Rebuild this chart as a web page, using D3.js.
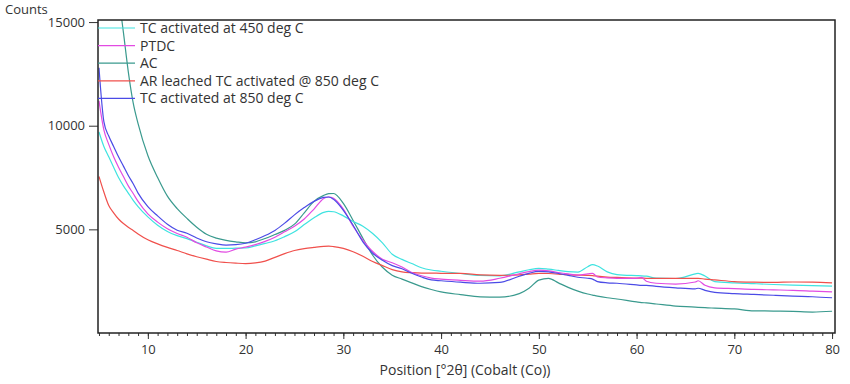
<!DOCTYPE html>
<html>
<head>
<meta charset="utf-8">
<script src="https://cdn.jsdelivr.net/npm/d3@7"></script>
<style>
  body { margin: 0; background: #fff; }
  svg { display: block; }
</style>
</head>
<body>
<svg id="svg"></svg>
<script>
// 2theta positions (deg), Cobalt radiation
const positions = [5, 5.5, 6, 6.5, 7, 7.5, 8, 8.5, 9, 10, 11, 12, 13, 14, 15, 16, 17, 18, 19, 20,
  21, 22, 23, 24, 25, 26, 27, 28, 28.5, 29, 30, 31, 32, 33, 34, 35, 36, 37, 38, 39, 40,
  42, 44, 46, 48, 49, 50, 51, 52, 53, 54, 55, 55.5, 56, 57, 58, 60, 60.5, 61, 62, 64,
  66, 66.3, 67, 68, 70, 72, 74, 76, 78, 80];

const tc450 = [9700, 9000, 8500, 8000, 7500, 7100, 6750, 6400, 6100, 5600, 5200, 4900, 4700, 4550, 4380, 4200, 4080, 4080, 4090, 4100,
  4200, 4320, 4450, 4650, 4880, 5230, 5560, 5820, 5870, 5850, 5650, 5380, 5150, 4800, 4350, 3800, 3550, 3350, 3150, 3040, 2980,
  2870, 2780, 2760, 2950, 3050, 3120, 3080, 3020, 2960, 2940, 3200, 3300, 3230, 2950, 2820, 2770, 2760, 2740, 2650, 2630,
  2850, 2880, 2750, 2480, 2420, 2380, 2340, 2310, 2290, 2260];

const ptdc = [11200, 9800, 9100, 8500, 8000, 7550, 7100, 6730, 6350, 5750, 5350, 5030, 4800, 4620, 4350, 4150, 3960, 3900, 4050, 4140,
  4260, 4420, 4620, 4880, 5150, 5500, 5980, 6490, 6560, 6500, 5980, 5150, 4480, 3930, 3560, 3390, 3180, 2920, 2760, 2650, 2600,
  2540, 2500, 2640, 2860, 2960, 3030, 3000, 2920, 2850, 2790, 2850, 2880, 2700, 2660, 2640, 2640, 2680, 2500, 2400, 2360,
  2460, 2520, 2300, 2180, 2140, 2100, 2080, 2060, 2020, 1980];

const ac = [24000, 21500, 19500, 17800, 16300, 14500, 12600, 11100, 10100, 8560, 7500, 6600, 6000, 5530, 5100, 4760, 4580, 4470, 4400, 4350,
  4400, 4560, 4750, 4950, 5250, 5800, 6350, 6640, 6720, 6730, 6250, 5430, 4570, 3750, 3170, 2790, 2600, 2420, 2240, 2100, 1980,
  1850, 1740, 1730, 1900, 2160, 2550, 2640, 2420, 2200, 2020, 1880, 1830, 1780, 1700, 1640, 1500, 1470, 1450, 1400, 1300,
  1250, 1240, 1220, 1200, 1160, 1070, 1060, 1040, 1010, 1050];

const arLeached = [7550, 6800, 6150, 5800, 5500, 5280, 5100, 4950, 4780, 4500, 4300, 4130, 3980, 3820, 3680, 3560, 3450, 3400, 3370, 3350,
  3380, 3470, 3650, 3830, 3980, 4070, 4130, 4180, 4190, 4170, 4080, 3920, 3700, 3450, 3250, 3060, 2950, 2910, 2890, 2890, 2880,
  2880, 2800, 2780, 2800, 2840, 2880, 2870, 2840, 2800, 2790, 2780, 2770, 2740, 2700, 2680, 2650, 2650, 2640, 2640, 2640,
  2640, 2640, 2600, 2560, 2480, 2450, 2440, 2460, 2450, 2420];

const tc850 = [12800, 10200, 9500, 9000, 8500, 8050, 7600, 7200, 6750, 6100, 5650, 5250, 4960, 4810, 4580, 4400, 4300, 4240, 4260, 4330,
  4500, 4700, 4950, 5300, 5700, 6050, 6350, 6540, 6560, 6450, 5920, 5200, 4400, 3850, 3510, 3250, 3100, 2880, 2700, 2560, 2520,
  2450, 2400, 2440, 2740, 2880, 2970, 2950, 2870, 2780, 2690, 2640, 2600, 2480, 2420, 2400, 2320, 2300, 2300, 2250, 2180,
  2130, 2160, 2060, 1960, 1900, 1860, 1820, 1780, 1750, 1700];

const seriesNames = ["TC activated at 450 deg C", "PTDC", "AC", "AR leached TC activated @ 850 deg C", "TC activated at 850 deg C"];
const seriesValues = [tc450, ptdc, ac, arLeached, tc850];
const seriesColors = ["#3fe3e0", "#e24be2", "#3a9a8e", "#f0504c", "#4b4be6"];

const yTicks = [5000, 10000, 15000];
const xTicks = [10, 20, 30, 40, 50, 60, 70, 80];

const width = 850;
const height = 384;
const margin = { left: 98, right: 835, top: 20, bottom: 333 };

const svg = d3.select("#svg")
  .attr("width", width)
  .attr("height", height)
  .attr("font-family", "'Open Sans', sans-serif")
  .attr("font-size", 14);

const xScale = d3.scaleLinear([4.9, 80.3], [margin.left, margin.right]);
const yScale = d3.scaleLinear([0, 15100], [margin.bottom, margin.top]);

svg.append("defs").append("clipPath")
  .attr("id", "plot-clip")
  .append("rect")
  .attr("x", margin.left)
  .attr("y", margin.top)
  .attr("width", margin.right - margin.left)
  .attr("height", margin.bottom - margin.top);

// x axis, minor ticks then major ticks
svg.append("g")
  .attr("transform", "translate(0," + margin.bottom + ")")
  .call(d3.axisBottom(xScale).tickValues(d3.range(5, 81, 1)).tickSize(3).tickFormat(""))
  .call(g => g.select(".domain").remove())
  .selectAll("line").attr("stroke", "#333");

svg.append("g")
  .attr("transform", "translate(0," + margin.bottom + ")")
  .call(d3.axisBottom(xScale).tickValues(xTicks).tickSize(6).tickPadding(6))
  .call(g => g.select(".domain").remove())
  .call(g => g.selectAll("line").attr("stroke", "#333"))
  .call(g => g.selectAll("text").attr("font-size", 13).attr("fill", "#333")
    .attr("font-family", "'Open Sans', sans-serif"));

// y axis
svg.append("g")
  .attr("transform", "translate(" + margin.left + ",0)")
  .call(d3.axisLeft(yScale).tickValues(yTicks).tickSize(9).tickPadding(4).tickFormat(d3.format("d")))
  .call(g => g.select(".domain").remove())
  .call(g => g.selectAll("line").attr("stroke", "#333"))
  .call(g => g.selectAll("text").attr("font-size", 13).attr("fill", "#333")
    .attr("font-family", "'Open Sans', sans-serif"));

// lines
const line = d3.line()
  .x((d, i) => xScale(positions[i]))
  .y(d => yScale(d))
  .curve(d3.curveMonotoneX);

const plot = svg.append("g").attr("clip-path", "url(#plot-clip)");

// blue ends up on top like in the original
const drawOrder = [2, 0, 3, 1, 4];
drawOrder.forEach(k => {
  plot.append("path")
    .datum(seriesValues[k])
    .attr("fill", "none")
    .attr("stroke", seriesColors[k])
    .attr("stroke-width", 1.2)
    .attr("d", line);
});

// frame
svg.append("rect")
  .attr("x", margin.left)
  .attr("y", margin.top)
  .attr("width", margin.right - margin.left)
  .attr("height", margin.bottom - margin.top)
  .attr("fill", "none")
  .attr("stroke", "#222")
  .attr("stroke-width", 1.5);

// legend
const legend = svg.append("g");
seriesNames.forEach((name, i) => {
  const y = 28 + i * 17.6;
  legend.append("line")
    .attr("x1", margin.left).attr("x2", 135)
    .attr("y1", y).attr("y2", y)
    .attr("stroke", seriesColors[i])
    .attr("stroke-width", 1.2);
  legend.append("text")
    .attr("x", 140)
    .attr("y", y)
    .attr("dy", "0.35em")
    .attr("fill", "#333")
    .text(name);
});

// axis titles
svg.append("text")
  .attr("x", 5)
  .attr("y", 14)
  .attr("font-size", 13)
  .attr("fill", "#333")
  .text("Counts");

svg.append("text")
  .attr("x", 465)
  .attr("y", 375)
  .attr("text-anchor", "middle")
  .attr("fill", "#333")
  .text("Position [°2θ] (Cobalt (Co))");
</script>
</body>
</html>
